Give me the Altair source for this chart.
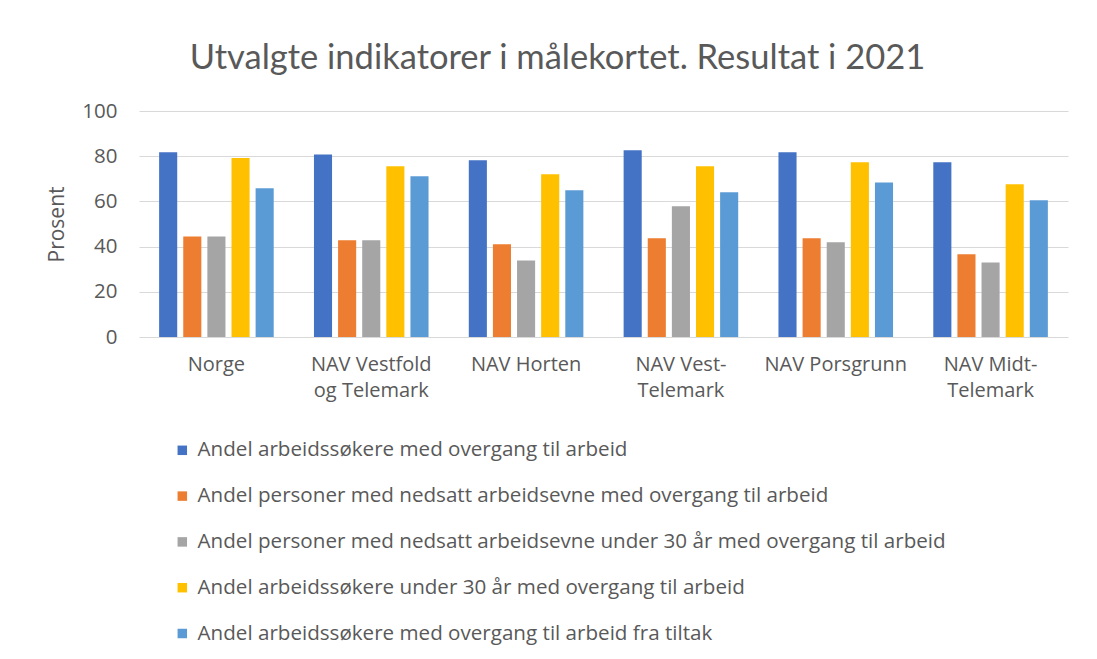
import altair as alt
import pandas as pd

categories = ["Norge", "NAV Vestfold og Telemark", "NAV Horten",
              "NAV Vest-Telemark", "NAV Porsgrunn", "NAV Midt-Telemark"]
category_lines = [["Norge"], ["NAV Vestfold", "og Telemark"], ["NAV Horten"],
                  ["NAV Vest-", "Telemark"], ["NAV Porsgrunn"], ["NAV Midt-", "Telemark"]]

series = [
    "Andel arbeidssøkere med overgang til arbeid",
    "Andel personer med nedsatt arbeidsevne med overgang til arbeid",
    "Andel personer med nedsatt arbeidsevne under 30 år med overgang til arbeid",
    "Andel arbeidssøkere under 30 år med overgang til arbeid",
    "Andel arbeidssøkere med overgang til arbeid fra tiltak",
]
colors = ["#4472C4", "#ED7D31", "#A5A5A5", "#FFC000", "#5B9BD5"]

s1 = [81.7, 80.8, 78.2, 82.6, 81.7, 77.3]
s2 = [44.5, 42.8, 41.0, 43.7, 43.7, 36.6]
s3 = [44.5, 42.8, 33.9, 57.8, 41.9, 33.0]
s4 = [79.2, 75.5, 72.0, 75.5, 77.3, 67.6]
s5 = [65.8, 71.1, 64.9, 64.0, 68.4, 60.5]
values = [s1, s2, s3, s4, s5]

rows = []
for sname, vals in zip(series, values):
    for c, v in zip(categories, vals):
        rows.append({"kategori": c, "serie": sname, "verdi": v})
df = pd.DataFrame(rows)

# label expression for multi-line category labels
expr = "datum.value"
for c, lines in reversed(list(zip(categories, category_lines))):
    arr = "[" + ",".join("'" + l + "'" for l in lines) + "]"
    expr = f"datum.value == '{c}' ? {arr} : ({expr})"

text_color = "#595959"
grid_color = "#D9D9D9"

chart = alt.Chart(df).mark_bar().encode(
    x=alt.X("kategori:N", sort=categories,
            scale=alt.Scale(paddingInner=0.26, paddingOuter=0.13),
            axis=alt.Axis(title=None, labelAngle=0, ticks=False, domain=False,
                          labelExpr=expr, labelPadding=17, labelFontSize=20,
                          labelColor=text_color, labelFont="Open Sans",
                          labelLineHeight=26)),
    xOffset=alt.XOffset("serie:N", sort=series, scale=alt.Scale(paddingInner=0.25)),
    y=alt.Y("verdi:Q", scale=alt.Scale(domain=[0, 100]),
            axis=alt.Axis(title="Prosent", values=[0, 20, 40, 60, 80, 100],
                          ticks=False, domain=False, gridColor=grid_color,
                          labelPadding=22, labelFontSize=20.5, labelColor=text_color,
                          labelFont="Open Sans", titleFont="Open Sans",
                          titleFontSize=21, titleFontWeight="normal",
                          titleColor=text_color, titlePadding=14)),
    color=alt.Color("serie:N", sort=series,
                    scale=alt.Scale(domain=series, range=colors),
                    legend=alt.Legend(title=None, orient="none", legendX=33, legendY=329,
                                      direction="vertical", symbolType="square",
                                      symbolSize=90, symbolStrokeWidth=0,
                                      labelFont="Open Sans", labelFontSize=20.6,
                                      labelColor=text_color, rowPadding=24.8,
                                      labelLimit=1000, labelOffset=5)),
).properties(
    width=929,
    height=226,
    autosize="none",
    padding={"left": 131, "top": 103, "right": 21, "bottom": 314},
    title=alt.TitleParams(
        "Utvalgte indikatorer i målekortet. Resultat i 2021",
        font="Lato", fontSize=34.5, fontWeight="normal", color=text_color,
        anchor="middle", frame="group", dx=-46, offset=25,
    ),
).configure_view(stroke=None)

chart.save("out.html", embed_options={"renderer": "svg", "actions": False})
